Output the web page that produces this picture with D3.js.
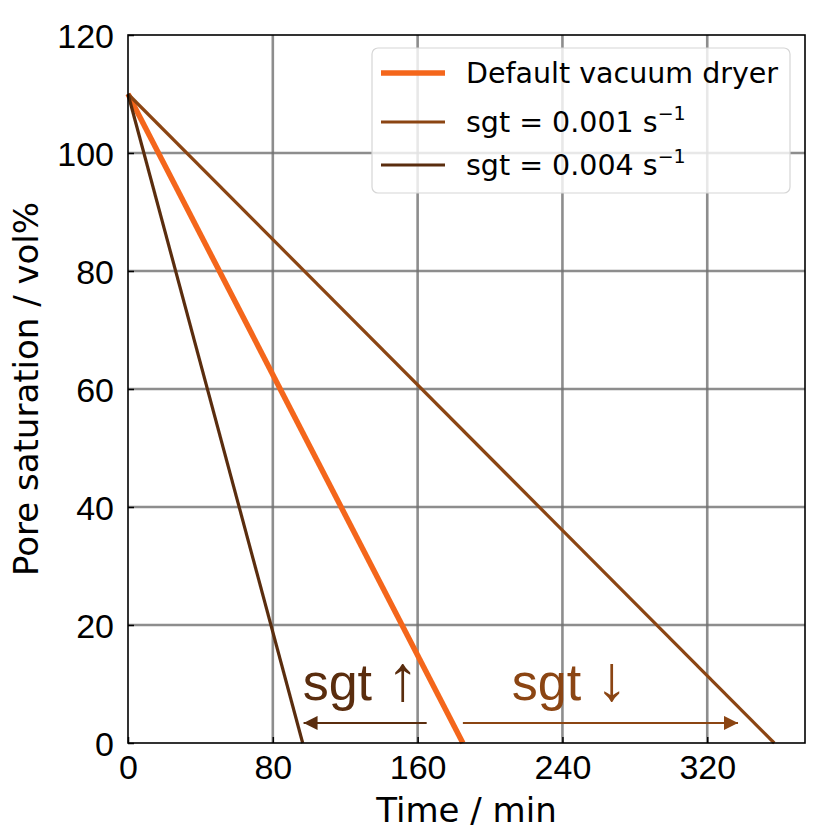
<!DOCTYPE html>
<html lang="en">
<head>
    <meta charset="UTF-8">
    <title>Pore saturation vs time</title>
    <script src="https://cdnjs.cloudflare.com/ajax/libs/d3/7.8.5/d3.min.js"></script>
    <style>
        body { margin: 0; padding: 0; background: #fff; }
        svg { display: block; font-family: "DejaVu Sans", sans-serif; }
        .grid line { stroke: #707070; stroke-opacity: 0.8; stroke-width: 2.6px; }
        .tick text { font-size: 34px; fill: #000; }
        .annot { font-family: "Liberation Sans", Arial, sans-serif; font-size: 52px; }
    </style>
</head>
<body>
<div id="chart"></div>
<script>
// data
const seriesNames = ["Default vacuum dryer", "sgt = 0.001 s", "sgt = 0.004 s"];
const seriesColors = ["#f4661b", "#8b4513", "#5a2d0e"];
const seriesWidths = [5.5, 3.2, 3.2];
const defaultTime = [0, 185];
const defaultSat = [110, 0];
const sgt001Time = [0, 357];
const sgt001Sat = [110, 0];
const sgt004Time = [0, 96.5];
const sgt004Sat = [110, 0];
const xTicks = [0, 80, 160, 240, 320];
const yTicks = [0, 20, 40, 60, 80, 100, 120];

const series = [
    { name: seriesNames[0], t: defaultTime, s: defaultSat },
    { name: seriesNames[1], t: sgt001Time, s: sgt001Sat },
    { name: seriesNames[2], t: sgt004Time, s: sgt004Sat }
];

const W = 837, H = 837;
const margin = { top: 35, right: 32, bottom: 94, left: 128 };
const width = W - margin.left - margin.right;
const height = H - margin.top - margin.bottom;

const svg = d3.select("#chart").append("svg")
    .attr("width", W).attr("height", H);

const defs = svg.append("defs");
function marker(id, color) {
    defs.append("marker")
        .attr("id", id)
        .attr("viewBox", "0 0 10 10")
        .attr("refX", 10).attr("refY", 5)
        .attr("markerUnits", "userSpaceOnUse")
        .attr("markerWidth", 16).attr("markerHeight", 14)
        .attr("orient", "auto")
        .append("path")
        .attr("d", "M0,0 L10,5 L0,10 Z")
        .attr("fill", color);
}
marker("arrDark", seriesColors[2]);
marker("arrMid", seriesColors[1]);

const g = svg.append("g")
    .attr("transform", `translate(${margin.left},${margin.top})`);

const x = d3.scaleLinear().domain([0, 374]).range([0, width]);
const y = d3.scaleLinear().domain([0, 120]).range([height, 0]);

// grid
g.append("g").attr("class", "grid")
    .selectAll("line").data(xTicks.slice(1)).enter().append("line")
    .attr("x1", d => x(d)).attr("x2", d => x(d))
    .attr("y1", 0).attr("y2", height);
g.append("g").attr("class", "grid")
    .selectAll("line").data(yTicks.slice(1, -1)).enter().append("line")
    .attr("x1", 0).attr("x2", width)
    .attr("y1", d => y(d)).attr("y2", d => y(d));

// axes, ticks pointing inward
const xAxis = g.append("g")
    .attr("transform", `translate(0,${height})`)
    .call(d3.axisBottom(x).tickValues(xTicks).tickSizeInner(-6).tickSizeOuter(0).tickPadding(12));
const yAxis = g.append("g")
    .call(d3.axisLeft(y).tickValues(yTicks).tickSizeInner(-6).tickSizeOuter(0).tickPadding(14));
[xAxis, yAxis].forEach(a => {
    a.select(".domain").remove();
    a.selectAll(".tick line").attr("stroke", "#000").attr("stroke-width", 1.5);
});
xAxis.selectAll(".tick text").attr("dy", "0.72em");
yAxis.selectAll(".tick text").attr("dy", "0.36em");

// lines
const line = d3.line().x(d => x(d[0])).y(d => y(d[1]));
series.forEach((sr, i) => {
    g.append("path")
        .datum(d3.zip(sr.t, sr.s))
        .attr("fill", "none")
        .attr("stroke", seriesColors[i])
        .attr("stroke-width", seriesWidths[i])
        .attr("d", line);
});

// frame
g.append("rect")
    .attr("width", width).attr("height", height)
    .attr("fill", "none").attr("stroke", "#000").attr("stroke-width", 1.6);

// annotations
g.append("line")
    .attr("x1", x(165)).attr("x2", x(97))
    .attr("y1", y(3.4)).attr("y2", y(3.4))
    .attr("stroke", seriesColors[2]).attr("stroke-width", 2)
    .attr("marker-end", "url(#arrDark)");
g.append("line")
    .attr("x1", x(185)).attr("x2", x(337))
    .attr("y1", y(3.4)).attr("y2", y(3.4))
    .attr("stroke", seriesColors[1]).attr("stroke-width", 2)
    .attr("marker-end", "url(#arrMid)");
const a1 = g.append("text").attr("class", "annot")
    .attr("x", x(96.5)).attr("y", y(7.3))
    .attr("fill", seriesColors[2]).text("sgt ");
a1.append("tspan").attr("font-size", 64).text("\u2191");
const a2 = g.append("text").attr("class", "annot")
    .attr("x", x(212)).attr("y", y(7.3))
    .attr("fill", seriesColors[1]).text("sgt ");
a2.append("tspan").attr("font-size", 64).text("\u2193");

// axis labels
svg.append("text")
    .attr("x", margin.left + width / 2).attr("y", 822)
    .attr("text-anchor", "middle").attr("font-size", 34)
    .text("Time / min");
svg.append("text")
    .attr("transform", `translate(38,${margin.top + height / 2}) rotate(-90)`)
    .attr("text-anchor", "middle").attr("font-size", 34)
    .text("Pore saturation / vol%");

// legend
const lg = svg.append("g").attr("transform", "translate(372,48)");
lg.append("rect")
    .attr("width", 418).attr("height", 145).attr("rx", 6)
    .attr("fill", "#fff").attr("fill-opacity", 0.8)
    .attr("stroke", "#d6d6d6").attr("stroke-width", 1.2);
const rowsY = [25, 74, 117];
series.forEach((sr, i) => {
    lg.append("line")
        .attr("x1", 9).attr("x2", 73)
        .attr("y1", rowsY[i]).attr("y2", rowsY[i])
        .attr("stroke", seriesColors[i]).attr("stroke-width", seriesWidths[i]);
    const t = lg.append("text")
        .attr("x", 94).attr("y", rowsY[i]).attr("dy", "0.36em")
        .attr("font-size", 28.5).text(sr.name);
    if (i > 0) {
        t.append("tspan").attr("dy", "-0.62em").attr("font-size", 19).text("\u22121");
    }
});
</script>
</body>
</html>
